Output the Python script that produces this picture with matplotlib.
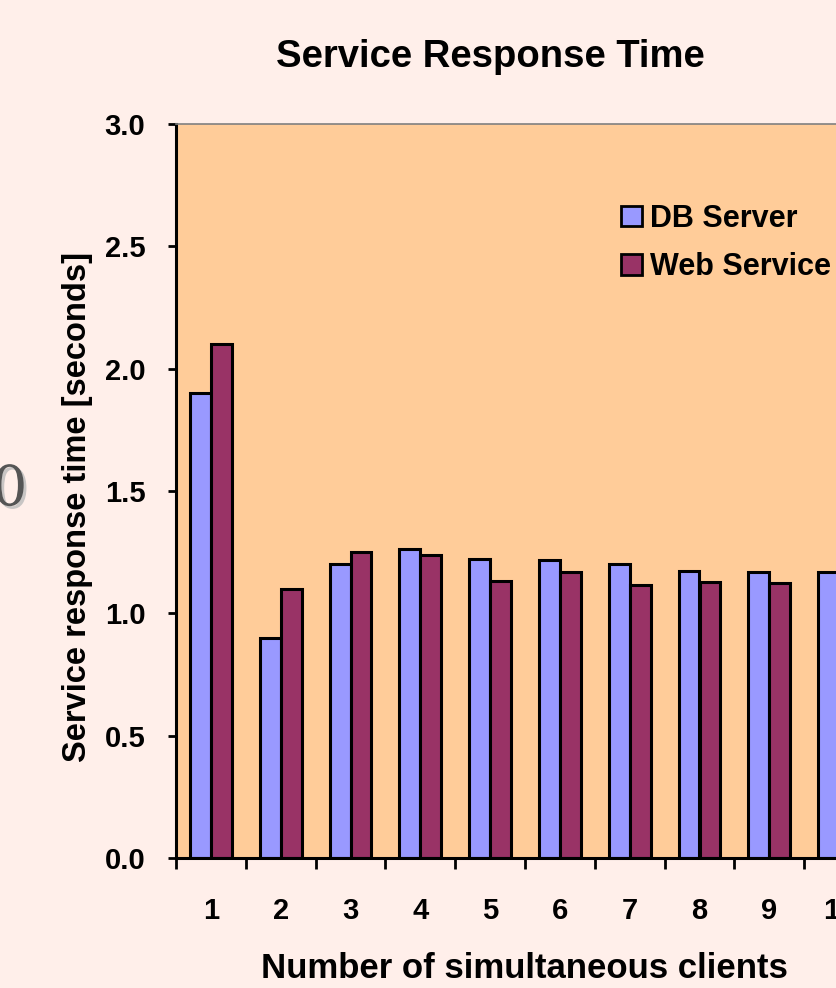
import matplotlib

matplotlib.use("Agg")
import matplotlib.pyplot as plt
import matplotlib.patheffects as pe
import numpy as np
from matplotlib.patches import Patch

plt.rcParams["font.family"] = ["Liberation Sans", "DejaVu Sans"]
plt.rcParams["font.weight"] = "bold"

clients = [1, 2, 3, 4, 5, 6, 7, 8, 9, 10]
db_server = [1.90, 0.90, 1.20, 1.263, 1.222, 1.218, 1.20, 1.175, 1.169, 1.169]
web_service = [2.10, 1.10, 1.25, 1.238, 1.132, 1.169, 1.115, 1.128, 1.124, 1.12]
y_ticks = [0.0, 0.5, 1.0, 1.5, 2.0, 2.5, 3.0]

page_bg = "#FFEFEA"
plot_bg = "#FFCC99"
db_color = "#9999FF"
web_color = "#993366"

W, H = 836, 988
fig = plt.figure(figsize=(W / 100, H / 100), dpi=100, facecolor=page_bg)
ax = fig.add_axes([176 / W, 130 / H, 698 / W, 734 / H])
ax.set_facecolor(plot_bg)

x = np.array(clients, dtype=float)
width = 0.3
ax.bar(x - width / 2, db_server, width, color=db_color, edgecolor="black", linewidth=2.2, label="DB Server")
ax.bar(x + width / 2, web_service, width, color=web_color, edgecolor="black", linewidth=2.2, label="Web Service")

ax.set_xlim(0.5, len(clients) + 0.5)
ax.set_ylim(0, 3.0)

# group boundaries carry the tick marks, centres carry the labels
ax.set_xticks(np.arange(0.5, len(clients) + 1), labels=[])
ax.set_xticks(x, labels=[str(c) for c in clients], minor=True)
ax.tick_params(axis="x", which="major", direction="out", length=8, width=2)
ax.tick_params(axis="x", which="minor", length=0, pad=28, labelsize=21)
ax.set_yticks(y_ticks, labels=[f"{v:.1f}" for v in y_ticks])
ax.tick_params(axis="y", direction="out", length=6, width=2, pad=16, labelsize=21)

for side in ("left", "bottom"):
    ax.spines[side].set_linewidth(2.2)
ax.spines["top"].set_color("#808080")
ax.spines["top"].set_linewidth(1.2)
ax.spines["right"].set_visible(False)

fig.text(524 / W, 1 - 968 / H, "Number of simultaneous clients", ha="center", va="center",
         fontsize=25, fontweight="bold")
fig.text(78 / W, 1 - 507 / H, "Service response time [seconds]", rotation=90,
         ha="center", va="center", fontsize=23.5, fontweight="bold")
fig.text(490 / W, 1 - 67 / H, "Service Response Time", ha="center", va="baseline",
         fontsize=27.5, fontweight="bold")

handles = [Patch(facecolor=db_color, edgecolor="black", linewidth=2),
           Patch(facecolor=web_color, edgecolor="black", linewidth=2)]
fig.legend(handles, ["DB Server", "Web Service"], loc="upper left",
           bbox_to_anchor=(621 / W, 1 - 204 / H), frameon=False,
           handlelength=0.7, handleheight=0.65, handletextpad=0.25,
           labelspacing=0.6, borderpad=0, borderaxespad=0,
           prop={"size": 22, "weight": "bold"})

# slide text bleeding in from the left edge
fig.text(-8 / W, 1 - 490 / H, "0", ha="left", va="center", fontsize=40,
         color="#555555", fontfamily="DejaVu Serif", fontweight="normal",
         path_effects=[pe.withSimplePatchShadow(offset=(2, -2), shadow_rgbFace="#bbbbbb", alpha=0.8)])

fig.savefig("out.png", dpi=100, facecolor=page_bg)
